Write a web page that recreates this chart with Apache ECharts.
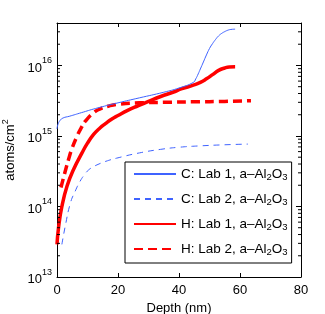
<!DOCTYPE html>
<html>
<head>
<meta charset="utf-8">
<script src="https://cdn.jsdelivr.net/npm/echarts@6/dist/echarts.min.js"></script>
<style>html,body{margin:0;padding:0;background:#fff;}#c{width:325px;height:314px;}</style>
</head>
<body>
<div id="c"></div>
<script>
const seriesNames = ['C: Lab 1, a–Al2O3', 'C: Lab 2, a–Al2O3', 'H: Lab 1, a–Al2O3', 'H: Lab 2, a–Al2O3'];
const xTicks = [0, 20, 40, 60, 80];
const yDecades = [1e13, 1e14, 1e15, 1e16];

const cLab1Depth = [0, 0.3, 1, 2, 4, 8, 12.6, 20, 27, 35, 40, 44.7, 45.5, 46.3, 47, 48, 49, 50, 51, 52, 53, 54, 55, 56, 57, 58.4];
const cLab1Val = [1.26e15, 1.45e15, 1.66e15, 1.8e15, 1.9e15, 2.14e15, 2.45e15, 2.95e15, 3.47e15, 4.17e15, 4.79e15, 5.75e15, 6.46e15, 7.59e15, 8.91e15, 1.12e16, 1.41e16, 1.74e16, 2.04e16, 2.34e16, 2.63e16, 2.85e16, 3.02e16, 3.16e16, 3.24e16, 3.27e16];

const cLab2Depth = [1.6, 2.7, 4.4, 6.0, 7.6, 9, 10.4, 12, 13.1, 16, 20, 27, 34, 40, 47, 55, 62.6];
const cLab2Val = [2.9e13, 5.25e13, 1.12e14, 1.66e14, 2.29e14, 2.82e14, 3.31e14, 3.67e14, 3.89e14, 4.37e14, 4.9e14, 5.75e14, 6.46e14, 6.92e14, 7.24e14, 7.5e14, 7.67e14];

const hLab1Depth = [0, 0.5, 1.6, 3.3, 5.5, 8.2, 10, 12, 14, 16, 18, 20, 23, 26.7, 30, 34, 38, 41, 44.7, 47, 49, 51, 53, 55, 56.5, 58.4];
const hLab1Val = [2.9e13, 5.0e13, 1.0e14, 1.95e14, 3.4e14, 5.75e14, 7.9e14, 1.05e15, 1.29e15, 1.51e15, 1.74e15, 1.95e15, 2.29e15, 2.69e15, 3.09e15, 3.63e15, 4.17e15, 4.68e15, 5.25e15, 5.75e15, 6.46e15, 7.41e15, 8.51e15, 9.2e15, 9.5e15, 9.55e15];

const hLab2Depth = [1.3, 2.7, 3.8, 4.9, 6.6, 8, 9.3, 12, 14, 17, 20, 27, 35, 45, 55, 63.6];
const hLab2Val = [1.86e14, 3.16e14, 4.68e14, 6.61e14, 1.0e15, 1.32e15, 1.62e15, 2.14e15, 2.4e15, 2.66e15, 2.82e15, 2.95e15, 3.0e15, 3.05e15, 3.09e15, 3.16e15];

const xMin = 0, xMax = 80, yMin = 1e13, yMax = 4e16;

function pairs(xs, ys) { return xs.map((x, i) => [x, ys[i]]); }

// log minor tick values (2..9 x decade)
const minorVals = [];
yDecades.forEach(d => { for (let k = 2; k <= 9; k++) { const v = k * d; if (v < yMax) minorVals.push(v); } });

const FONT = 'Liberation Sans, Arial, Helvetica, sans-serif';
const blue = '#3f63ff';
const red = '#ff0000';

function legendFmt(name) {
  const pre = name.replace('Al2O3', '');
  return '{t|' + pre + 'Al}{s|2}{t|O}{s|3}';
}

const chart = echarts.init(document.getElementById('c'));
chart.setOption({
  animation: false,
  backgroundColor: '#fff',
  grid: { left: 57, right: 24, top: 23, bottom: 37, show: false, containLabel: false, outerBoundsMode: 'none' },
  legend: {
    orient: 'vertical',
    left: 125, top: 162,
    padding: [5, 4, 6, 8],
    itemWidth: 42, itemHeight: 16, itemGap: 10,
    backgroundColor: '#fff',
    borderColor: '#000', borderWidth: 1, borderRadius: 0,
    data: seriesNames,
    formatter: legendFmt,
    itemStyle: { opacity: 0 },
    textStyle: {
      fontFamily: FONT, fontSize: 13.5, color: '#000',
      rich: {
        t: { fontFamily: FONT, fontSize: 13.5, color: '#000', lineHeight: 16 },
        s: { fontFamily: FONT, fontSize: 9.5, color: '#000', verticalAlign: 'bottom', lineHeight: 6 }
      }
    }
  },
  xAxis: [{
    type: 'value', min: xMin, max: xMax, interval: 20,
    name: 'Depth (nm)', nameLocation: 'middle', nameGap: 19,
    nameTextStyle: { fontFamily: FONT, fontSize: 13, color: '#000' },
    axisLine: { show: true, onZero: false, lineStyle: { color: '#000', width: 1 } },
    axisTick: { show: true, inside: true, length: 4, lineStyle: { color: '#000' } },
    axisLabel: { fontFamily: FONT, fontSize: 13, color: '#000', margin: 7 },
    splitLine: { show: false }
  }, {
    type: 'value', min: xMin, max: xMax, interval: 20, position: 'top',
    axisLine: { show: true, onZero: false, lineStyle: { color: '#000', width: 1 } },
    axisTick: { show: true, inside: true, length: 4, lineStyle: { color: '#000' } },
    axisLabel: { show: false }, splitLine: { show: false }
  }],
  yAxis: [{
    type: 'log', logBase: 10, min: yMin, max: yMax,
    name: '{t|atoms/cm}{s|2}', nameLocation: 'middle', nameRotate: 90, nameGap: 36,
    nameTextStyle: {
      fontFamily: FONT, fontSize: 13, color: '#000',
      rich: {
        t: { fontFamily: FONT, fontSize: 13, color: '#000', lineHeight: 18 },
        s: { fontFamily: FONT, fontSize: 9, color: '#000', verticalAlign: 'top', lineHeight: 18 }
      }
    },
    axisLine: { show: true, onZero: false, lineStyle: { color: '#000', width: 1 } },
    axisTick: { show: true, inside: true, length: 5, lineStyle: { color: '#000' } },
    axisLabel: {
      margin: 5, showMaxLabel: false,
      formatter: v => '{b|10}{s|' + Math.round(Math.log10(v)) + '}',
      rich: {
        b: { fontFamily: FONT, fontSize: 13, color: '#000', lineHeight: 18, verticalAlign: 'bottom' },
        s: { fontFamily: FONT, fontSize: 9, color: '#000', lineHeight: 18, verticalAlign: 'top' }
      }
    },
    splitLine: { show: false }
  }, {
    type: 'log', logBase: 10, min: yMin, max: yMax, position: 'right',
    axisLine: { show: true, onZero: false, lineStyle: { color: '#000', width: 1 } },
    axisTick: { show: true, inside: true, length: 5, lineStyle: { color: '#000' } },
    axisLabel: { show: false }, splitLine: { show: false }
  }],
  series: [
    {
      name: seriesNames[0], type: 'line', data: pairs(cLab1Depth, cLab1Val), symbol: 'none', showSymbol: false, smooth: 0.5,
      lineStyle: { color: blue, width: 1 }, itemStyle: { color: blue }, z: 3
    },
    {
      name: seriesNames[1], type: 'line', data: pairs(cLab2Depth, cLab2Val), symbol: 'none', showSymbol: false, smooth: 0.5,
      lineStyle: { color: blue, width: 1, type: [6, 5] }, itemStyle: { color: blue }, z: 3
    },
    {
      name: seriesNames[2], type: 'line', data: pairs(hLab1Depth, hLab1Val), symbol: 'none', showSymbol: false, smooth: 0.5,
      lineStyle: { color: red, width: 3.5 }, itemStyle: { color: red }, z: 2
    },
    {
      name: seriesNames[3], type: 'line', data: pairs(hLab2Depth, hLab2Val), symbol: 'none', showSymbol: false, smooth: 0.5,
      lineStyle: { color: red, width: 3.5, type: [9, 5] }, itemStyle: { color: red }, z: 2
    },
    {
      type: 'custom', silent: true, z: 5, clip: false,
      data: minorVals.map(v => [xMin, v]),
      encode: { x: 0, y: 1 },
      renderItem: function (params, api) {
        const v = api.value(1);
        const l = api.coord([xMin, v]);
        const r = api.coord([xMax, v]);
        return {
          type: 'group', children: [
            { type: 'line', shape: { x1: l[0], y1: l[1], x2: l[0] + 3, y2: l[1] }, style: { stroke: '#000', lineWidth: 1 } },
            { type: 'line', shape: { x1: r[0], y1: r[1], x2: r[0] - 3, y2: r[1] }, style: { stroke: '#000', lineWidth: 1 } }
          ]
        };
      }
    }
  ]
});
</script>
</body>
</html>
